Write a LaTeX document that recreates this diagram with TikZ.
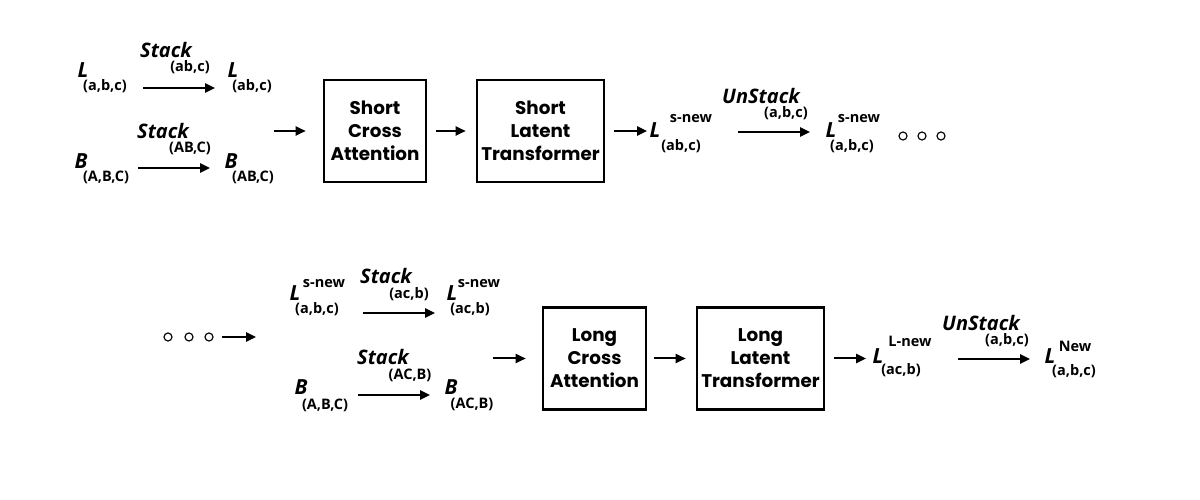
\documentclass[tikz,border=0pt]{standalone}
\usepackage{fontspec}
\setmainfont{Open Sans}
\newfontfamily\boxfont{Poppins}
\usetikzlibrary{arrows.meta}
\begin{document}
\begin{tikzpicture}[x=0.6pt,y=-0.6pt,
 sym/.style={font=\fontsize{12.5}{14}\selectfont\bfseries\itshape, inner sep=0},
 idx/.style={font=\fontsize{8.7}{10}\selectfont\bfseries, inner sep=0},
 op/.style={font=\fontsize{12}{14}\selectfont\bfseries\itshape, inner sep=0},
 blk/.style={draw, line width=1.6pt, minimum height=61.2pt, align=center,
   font=\boxfont\fontsize{11}{13.8}\selectfont\bfseries, inner sep=0},
 arr/.style={line width=1.2pt, -{Triangle[length=6pt,width=5.5pt]}},
 dot/.style={circle, draw, line width=0.7pt, minimum size=4.8pt, inner sep=0}]
\useasboundingbox (0,0) rectangle (1200,500);

% ---------- top row ----------
\node[sym] (L1) at (83,70) {L};
\node[idx] (L1s) at (105,86) {(a,b,c)};
\node[op] (op1) at (166,50) {Stack};
\node[idx] (op1s) at (190,67) {(ab,c)};
\node[sym] (L2) at (233,70) {L};
\node[idx] (L2s) at (252,86) {(ab,c)};
\node[op] (op2) at (163,131) {Stack};
\node[idx] (op2s) at (190,148) {(AB,C)};
\node[sym] (B1) at (81,161) {B};
\node[idx] (B1s) at (106,177) {(A,B,C)};
\node[sym] (B2) at (231,161) {B};
\node[idx] (B2s) at (253,177) {(AB,C)};

\node[blk, minimum width=61.2pt] (b1) at (375,131) {Short\\Cross\\Attention};
\node[blk, minimum width=76.2pt] (b2) at (540.5,131) {Short\\Latent\\Transformer};

\node[sym] (L3) at (655,130) {L};
\node[idx] (L3p) at (691,119) {s-new};
\node[idx] (L3s) at (681,146) {(ab,c)};
\node[op] (op3) at (761,96) {UnStack};
\node[idx] (op3s) at (786,113) {(a,b,c)};
\node[sym] (L4) at (831,130) {L};
\node[idx] (L4p) at (859,119) {s-new};
\node[idx] (L4s) at (852,146) {(a,b,c)};
\node[dot] (d1) at (903,136) {};
\node[dot] (d2) at (922,136) {};
\node[dot] (d3) at (941,136) {};

\coordinate (a1s) at (143,88); \coordinate (a1e) at (215,88);
\coordinate (a2s) at (138,168); \coordinate (a2e) at (210,168);
\coordinate (a3s) at (274,131);
\coordinate (a5e) at (647,131);
\coordinate (a6s) at (738,132); \coordinate (a6e) at (810,132);
\draw[arr] (a1s) -- (a1e);
\draw[arr] (a2s) -- (a2e);
\draw[arr, shorten >=10.2pt] (a3s) -- (b1.west);
\draw[arr, shorten <=5.4pt, shorten >=6pt] (b1.east) -- (b2.west);
\draw[arr, shorten <=5.4pt] (b2.east) -- (a5e);
\draw[arr] (a6s) -- (a6e);

% ---------- bottom row ----------
\node[dot] (d4) at (168,337) {};
\node[dot] (d5) at (189,337) {};
\node[dot] (d6) at (209,337) {};
\coordinate (a7s) at (222,337); \coordinate (a7e) at (256,337);
\draw[arr] (a7s) -- (a7e);

\node[sym] (L5) at (295,293) {L};
\node[idx] (L5p) at (324,284) {s-new};
\node[idx] (L5s) at (317,309) {(a,b,c)};
\node[op] (op4) at (386,276) {Stack};
\node[idx] (op4s) at (409,294) {(ac,b)};
\node[sym] (L6) at (452,293) {L};
\node[idx] (L6p) at (479,284) {s-new};
\node[idx] (L6s) at (470,309) {(ac,b)};
\node[op] (op5) at (383,357) {Stack};
\node[idx] (op5s) at (410,375) {(AC,B)};
\node[sym] (B3) at (301,387) {B};
\node[idx] (B3s) at (325,405) {(A,B,C)};
\node[sym] (B4) at (451,387) {B};
\node[idx] (B4s) at (472,404) {(AC,B)};

\node[blk, minimum width=61.8pt] (b3) at (594.5,358.5) {Long\\Cross\\Attention};
\node[blk, minimum width=76.2pt] (b4) at (760.5,358.5) {Long\\Latent\\Transformer};

\node[sym] (L7) at (878,356) {L};
\node[idx] (L7p) at (910,341) {L-new};
\node[idx] (L7s) at (901,370) {(ac,b)};
\node[op] (op6) at (981,323) {UnStack};
\node[idx] (op6s) at (1007,340) {(a,b,c)};
\node[sym] (L8) at (1050,356) {L};
\node[idx] (L8p) at (1075,346) {New};
\node[idx] (L8s) at (1074,371) {(a,b,c)};

\coordinate (a8s) at (363,313); \coordinate (a8e) at (435,313);
\coordinate (a9s) at (358,395); \coordinate (a9e) at (430,395);
\coordinate (a10s) at (493,358.5);
\coordinate (a12e) at (866,358.5);
\coordinate (a13s) at (958,359); \coordinate (a13e) at (1030,359);
\draw[arr] (a8s) -- (a8e);
\draw[arr] (a9s) -- (a9e);
\draw[arr, shorten >=9.6pt] (a10s) -- (b3.west);
\draw[arr, shorten <=4.2pt, shorten >=6pt] (b3.east) -- (b4.west);
\draw[arr, shorten <=5.4pt] (b4.east) -- (a12e);
\draw[arr] (a13s) -- (a13e);
\end{tikzpicture}
\end{document}
